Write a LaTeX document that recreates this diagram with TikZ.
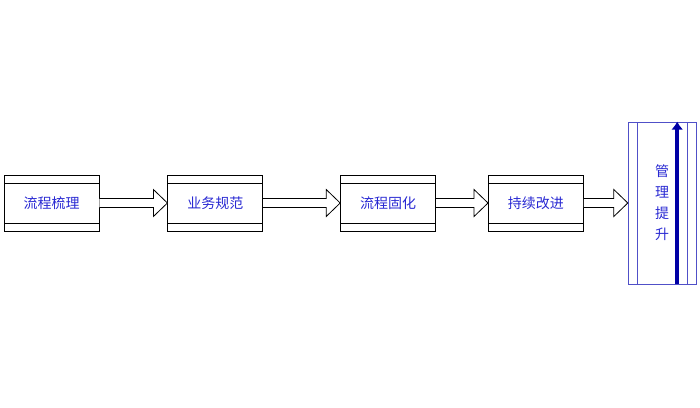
\documentclass[tikz,border=0pt]{standalone}
\usepackage{fontspec}
\newfontfamily\cjk{Noto Sans CJK SC}
\usetikzlibrary{calc}
\usetikzlibrary{positioning}
\usetikzlibrary{arrows.meta}
\definecolor{txtblue}{RGB}{40,40,210}
\definecolor{lineblue}{RGB}{80,80,200}
\definecolor{darkblue}{RGB}{0,0,165}
\tikzstyle{stepbox} = [draw, rectangle, line width=0.8pt, minimum width=95pt, minimum height=56pt, inner sep=0pt, text=txtblue, font=\cjk\fontsize{14}{16}\selectfont,
  path picture={\draw[line width=0.8pt] ([yshift=-8pt]path picture bounding box.north west) -- ([yshift=-8pt]path picture bounding box.north east);
                \draw[line width=0.8pt] ([yshift=8pt]path picture bounding box.south west) -- ([yshift=8pt]path picture bounding box.south east);}]
\tikzstyle{goalbox} = [draw=lineblue, rectangle, line width=0.8pt, minimum width=68pt, minimum height=162pt, inner sep=0pt, text=txtblue, align=center, font=\cjk\fontsize{14}{21}\selectfont,
  path picture={\draw[lineblue, line width=0.8pt] ([xshift=9pt]path picture bounding box.north west) -- ([xshift=9pt]path picture bounding box.south west);
                \draw[lineblue, line width=0.8pt] ([xshift=-9pt]path picture bounding box.north east) -- ([xshift=-9pt]path picture bounding box.south east);}]
\tikzstyle{fatarr} = [draw, line width=0.8pt, fill=white]
\newcommand{\fatarrow}[2]{\draw[fatarr] ($(#1.east)+(0,-4.5)$) -- ($(#2.west)+(-14,-4.5)$) -- ($(#2.west)+(-14,-13.5)$) -- (#2.west) -- ($(#2.west)+(-14,13.5)$) -- ($(#2.west)+(-14,4.5)$) -- ($(#1.east)+(0,4.5)$);}

\begin{document}
\begin{tikzpicture}[x=1pt, y=-1pt]
  \useasboundingbox (0,0) rectangle (700,407);

  \node[stepbox] (flow) at (51.5,203) {流程梳理};
  \node[stepbox, right=68pt of flow] (norm) {业务规范};
  \node[stepbox, right=77pt of norm] (fix) {流程固化};
  \node[stepbox, right=52pt of fix] (improve) {持续改进};
  \node[goalbox, right=44pt of improve] (goal) {管\\理\\提\\升};

  \foreach \a/\b in {flow/norm, norm/fix, fix/improve, improve/goal}
    \fatarrow{\a}{\b};

  \draw[darkblue, line width=4pt, -{Latex[length=8pt,width=12pt]}] ([xshift=15pt]goal.south) -- ([xshift=15pt]goal.north);
\end{tikzpicture}
\end{document}
